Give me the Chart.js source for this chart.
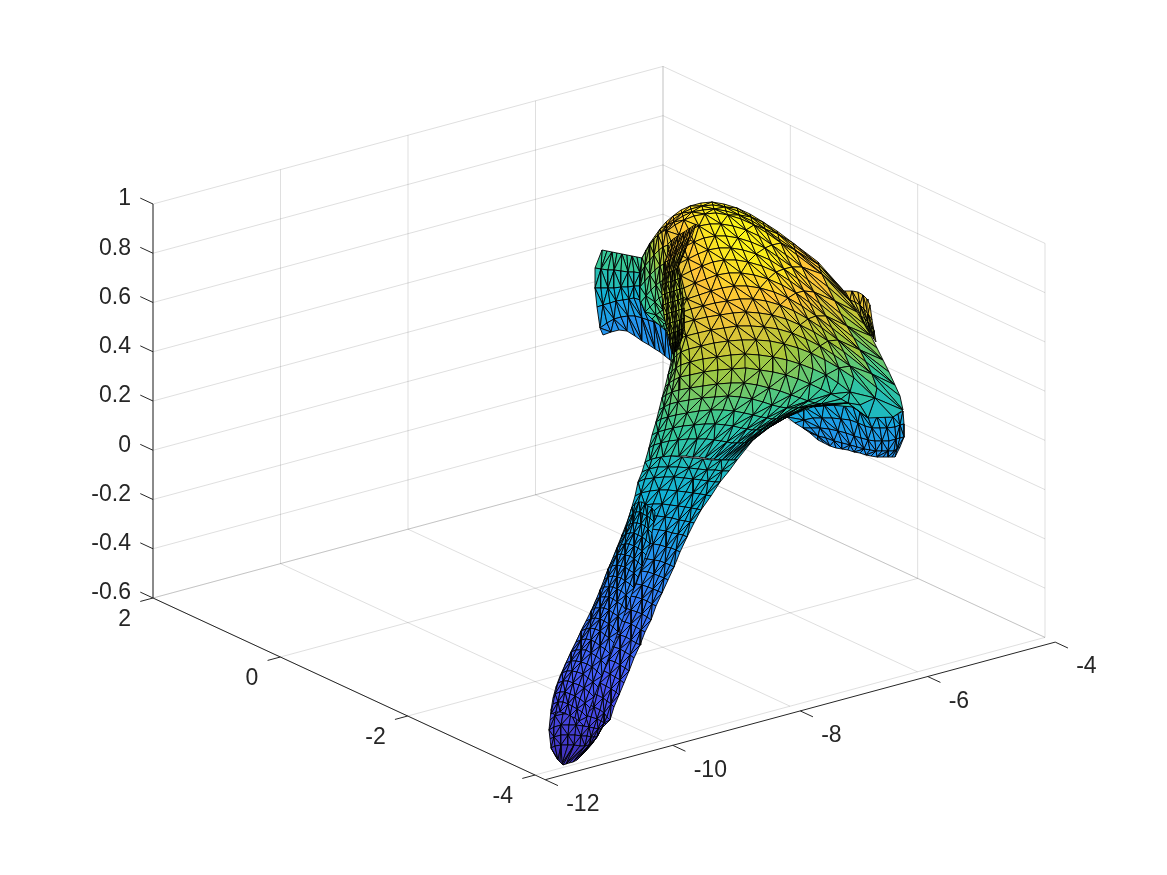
<!DOCTYPE html>
<html>
<head>
<meta charset="utf-8">
<title>surface</title>
<script src="https://cdn.jsdelivr.net/npm/chart.js@4/dist/chart.umd.min.js"></script>
<style>
  html, body { margin: 0; padding: 0; background: #fff; }
  canvas { display: block; }
</style>
</head>
<body>
<canvas id="grafico" width="1167" height="875"></canvas>
<script>
const xTicks = [-12, -10, -8, -6, -4];
const yTicks = [2, 0, -2, -4];
const zTicks = [1, 0.8, 0.6, 0.4, 0.2, 0, -0.2, -0.4, -0.6];
const zLabels = ['1', '0.8', '0.6', '0.4', '0.2', '0', '-0.2', '-0.4', '-0.6'];

const headU = [
  [642,646,650,655,660,666,673,681,690,701,712,724,737,750,763,777,793,818,843],
  [642,646,650,656,661,667,674,682,691,702,713,725,738,751,764,778,794,819,845],
  [642,645,650,655,661,667,674,683,692,703,714,726,739,752,765,779,795,820,847],
  [641,645,650,655,661,667,675,684,694,705,716,728,741,754,767,781,797,822,850],
  [640,645,651,657,664,671,679,689,699,710,721,733,746,759,772,786,802,828,857],
  [640,646,653,660,667,675,684,694,704,715,726,738,751,765,778,792,808,835,864],
  [642,648,656,663,670,678,688,698,708,719,731,743,756,770,784,798,814,841,871],
  [645,651,659,666,672,681,691,702,713,724,736,748,762,776,790,804,820,847,877],
  [651,656,662,668,674,684,695,706,717,729,741,754,768,782,796,810,826,854,883],
  [658,662,667,671,677,687,699,711,722,734,747,760,774,788,802,816,832,860,889],
  [665,668,671,674,680,691,703,715,727,740,753,766,780,794,808,822,838,866,895],
  [670,672,674,677,683,694,707,720,733,746,759,772,786,800,814,828,844,872,900],
  [672,674,676,679,686,698,711,724,737,751,764,778,792,806,820,834,850,877,903],
  [671,674,677,681,689,701,714,728,742,756,770,784,798,811,825,839,854,875,893],
  [668,672,676,681,690,703,717,731,745,759,773,787,800,813,826,838,850,860,868],
  [665,669,674,680,690,704,718,732,746,760,773,786,798,810,821,831,841,848,853],
  [662,666,672,679,690,703,717,731,744,757,769,780,791,800,808,815,821,826,830],
  [659,664,670,678,689,702,715,728,740,752,763,772,780,787,793,798,803,808,812],
  [656,661,668,676,687,699,711,723,734,744,753,761,767,772,776,779,782,785,787],
  [652,658,665,673,683,694,705,715,725,733,741,747,752,756,760,763,766,768,770],
  [649,654,661,669,678,688,697,706,714,721,727,732,737,741,744,747,749,751,753],
  [645,650,656,663,671,679,686,693,699,705,710,714,718,722,725,728,731,734,737]
];
const headV = [
  [258,250,243,236,229,222,216,210,206,203,202,204,208,214,222,231,243,262,290],
  [261,253,246,239,232,225,219,213,209,206,205,207,211,217,225,234,246,265,293],
  [264,256,249,242,235,228,222,216,212,210,209,211,215,221,229,239,250,269,297],
  [268,260,252,245,238,231,225,220,216,214,213,215,219,225,233,243,255,274,301],
  [280,271,262,255,248,241,235,230,226,224,224,226,230,236,245,255,267,287,312],
  [291,282,273,265,258,252,247,242,238,236,236,238,242,248,257,267,280,301,324],
  [302,293,284,276,270,264,259,254,250,248,248,250,254,260,269,279,292,314,336],
  [311,303,295,288,282,276,271,266,262,260,260,262,266,272,281,291,304,326,348],
  [318,312,305,299,293,288,283,279,275,273,273,275,279,285,293,303,316,338,360],
  [324,319,313,308,303,299,295,291,288,286,286,288,292,298,306,316,328,350,372],
  [330,326,321,317,313,309,306,303,301,299,299,301,305,311,319,328,340,362,385],
  [337,333,329,326,323,320,317,315,313,312,313,315,319,325,332,341,352,374,396],
  [350,346,342,339,336,333,330,328,326,326,327,329,333,339,346,355,366,388,410],
  [362,358,355,352,349,346,343,341,340,340,341,344,348,353,360,368,378,398,417],
  [375,371,368,365,362,359,357,355,354,355,357,360,364,369,375,383,392,405,418],
  [387,383,380,377,375,372,370,369,368,370,372,375,379,384,389,394,399,403,407],
  [398,395,392,390,388,386,384,383,383,385,388,391,395,398,401,403,404,405,405],
  [410,407,404,402,400,398,397,396,397,399,402,405,407,408,408,408,408,407,407],
  [422,419,417,415,413,411,410,410,411,413,415,417,418,419,419,419,418,418,417],
  [435,432,430,428,426,425,424,424,425,426,428,429,430,430,430,429,429,428,427],
  [448,445,443,441,440,439,439,439,440,441,442,443,443,443,443,442,441,441,440],
  [462,460,458,457,456,456,456,457,457,458,459,459,460,460,460,460,460,460,460]
];
const headC = [
  [.66,.68,.72,.76,.80,.84,.88,.90,.92,.94,.96,.97,.97,.97,.95,.94,.90,.84,.76],
  [.65,.67,.71,.75,.79,.83,.87,.90,.92,.94,.96,.97,.97,.97,.95,.94,.90,.84,.75],
  [.65,.67,.71,.75,.79,.83,.87,.90,.93,.95,.97,.98,.98,.97,.96,.94,.90,.84,.75],
  [.64,.66,.70,.74,.78,.82,.86,.90,.93,.95,.97,.98,.98,.97,.96,.94,.90,.84,.74],
  [.62,.64,.68,.72,.76,.80,.86,.90,.93,.96,.98,.98,.98,.97,.96,.93,.89,.82,.72],
  [.60,.62,.66,.70,.74,.80,.85,.90,.93,.96,.98,.98,.98,.97,.95,.92,.87,.80,.69],
  [.58,.60,.64,.68,.74,.80,.85,.89,.92,.95,.97,.98,.97,.96,.94,.90,.85,.77,.65],
  [.57,.60,.64,.68,.74,.80,.85,.88,.91,.94,.95,.96,.96,.94,.91,.87,.82,.74,.61],
  [.58,.60,.64,.68,.74,.80,.84,.87,.89,.92,.92,.93,.92,.90,.87,.84,.79,.71,.58],
  [.58,.60,.64,.68,.74,.80,.84,.86,.88,.89,.89,.89,.88,.86,.83,.80,.76,.68,.55],
  [.60,.62,.66,.70,.76,.80,.84,.85,.86,.86,.86,.85,.83,.81,.78,.75,.72,.64,.52],
  [.60,.62,.66,.72,.76,.80,.83,.84,.84,.83,.82,.80,.78,.76,.73,.70,.67,.60,.49],
  [.62,.64,.68,.72,.76,.79,.81,.82,.81,.80,.79,.77,.75,.73,.70,.67,.64,.57,.47],
  [.62,.64,.68,.72,.75,.77,.78,.78,.78,.77,.75,.73,.71,.68,.65,.62,.59,.52,.45],
  [.62,.64,.67,.70,.72,.74,.75,.75,.74,.72,.71,.69,.66,.63,.60,.58,.55,.50,.46],
  [.62,.63,.65,.67,.69,.71,.71,.71,.70,.68,.67,.65,.63,.60,.57,.55,.53,.52,.50],
  [.60,.62,.63,.65,.66,.67,.68,.67,.66,.65,.63,.61,.60,.58,.56,.55,.54,.54,.54],
  [.58,.60,.61,.62,.63,.64,.64,.64,.63,.61,.60,.58,.57,.56,.55,.55,.55,.55,.55],
  [.57,.58,.59,.60,.61,.61,.61,.60,.59,.58,.57,.55,.54,.54,.54,.54,.54,.54,.54],
  [.55,.56,.57,.58,.58,.58,.57,.56,.55,.55,.54,.53,.52,.52,.52,.52,.52,.52,.52],
  [.53,.54,.55,.55,.55,.54,.54,.53,.52,.51,.50,.49,.48,.48,.48,.48,.48,.48,.48],
  [.52,.52,.53,.53,.53,.52,.51,.50,.50,.49,.48,.48,.47,.47,.47,.47,.47,.47,.47]
];

const collarU = [
  [642,646,650,654,658,662,666],
  [641,645,650,654,659,663,668],
  [640,645,650,655,660,664,668],
  [641,646,651,656,660,664,667],
  [645,650,655,659,663,666,668],
  [652,656,660,663,666,668,670],
  [662,664,666,668,670,671,672]
];
const collarV = [
  [258,251,245,239,235,232,230],
  [272,266,260,255,250,247,245],
  [287,281,275,270,266,264,262],
  [302,296,290,285,282,280,278],
  [312,307,302,298,296,294,293],
  [319,315,312,310,308,307,306],
  [327,324,322,320,318,317,316]
];
const collarC = [
  [.64,.68,.72,.76,.80,.84,.86],
  [.60,.63,.66,.70,.74,.78,.80],
  [.56,.59,.62,.65,.68,.72,.74],
  [.55,.57,.60,.62,.65,.68,.70],
  [.55,.57,.59,.61,.63,.66,.68],
  [.56,.58,.60,.62,.64,.66,.68],
  [.58,.60,.62,.64,.66,.68,.70]
];

const foldU = [
  [672,675,678,681,684,687,690,693,696],
  [668,671,674,677,680,683,686,689,692],
  [665,668,670,673,675,678,681,684,686],
  [663,665,667,669,671,673,675,677,678],
  [662,664,666,668,671,673,675,678,680],
  [662,665,667,670,672,674,677,680,682],
  [663,666,668,671,673,675,678,681,683],
  [664,667,669,672,674,676,679,682,684],
  [666,668,670,673,675,677,680,682,684],
  [668,670,672,674,676,678,680,682,684],
  [670,671,673,675,676,678,679,681,682],
  [672,673,674,675,675,676,676,677,678]
];
const foldV = [
  [240,238,236,234,232,230,228,226,224],
  [252,250,248,246,244,242,240,238,236],
  [262,261,260,258,256,254,252,250,248],
  [275,274,273,272,272,271,270,269,268],
  [285,284,283,282,282,281,280,279,278],
  [295,294,293,292,292,291,290,289,288],
  [305,304,303,302,302,301,300,299,298],
  [315,314,313,312,312,311,310,309,308],
  [325,324,323,322,322,321,320,319,318],
  [335,334,333,332,332,331,330,329,328],
  [345,344,343,342,342,341,340,339,338],
  [354,353,353,352,352,351,351,350,350]
];
const foldC = [.88,.86,.82,.74,.72,.72,.72,.72,.72,.72,.70,.68];

const stemU = [
  [645,652,661,671,682,693,703,712,721,729,737],
  [642,649,658,668,678,689,698,707,715,722,729],
  [638,645,654,664,674,684,693,701,708,715,720],
  [635,641,650,659,668,677,686,693,700,706,711],
  [631,637,645,653,662,670,678,685,691,697,701],
  [627,633,640,648,657,665,672,679,685,690,694],
  [622,628,635,643,651,659,666,672,678,683,687],
  [616,622,629,637,645,653,660,666,671,676,680],
  [610,617,624,632,640,647,654,660,665,670,674],
  [605,612,619,626,634,641,648,654,659,664,668],
  [601,607,614,621,629,636,642,648,653,658,662],
  [595,601,608,616,623,630,636,642,647,652,656],
  [590,596,603,611,618,625,631,637,642,647,651],
  [583,590,597,605,612,619,625,631,636,641,645],
  [577,584,592,600,607,614,620,626,631,636,640],
  [571,578,586,594,602,608,614,620,625,630,634],
  [565,573,581,589,597,603,609,615,620,625,629],
  [560,568,576,584,592,598,604,610,615,620,624],
  [556,563,571,579,587,594,600,606,611,616,619],
  [553,560,568,576,584,591,597,603,607,611,614],
  [551,557,565,573,581,588,594,600,604,607,610],
  [550,555,563,571,578,585,591,597,601,604,606],
  [549,554,561,569,576,583,589,594,598,601,602],
  [550,554,561,568,575,581,587,591,594,597,598],
  [551,555,561,568,574,580,585,589,590,592,593],
  [556,558,560,562,563,566,569,573,577,581,586]
];
const stemV = [
  [462,459,457,456,457,458,459,460,460,460,460],
  [472,469,467,467,467,468,469,470,470,471,471],
  [482,479,478,477,477,478,479,480,481,482,482],
  [496,493,491,490,490,491,492,493,494,495,496],
  [510,507,505,504,504,505,506,507,508,509,510],
  [522,519,517,516,516,517,518,520,521,522,523],
  [535,532,530,529,529,530,531,533,534,535,537],
  [550,546,544,543,543,544,545,547,548,550,552],
  [565,561,559,558,558,559,560,561,563,565,567],
  [577,573,571,570,570,571,572,574,576,578,580],
  [590,586,584,583,583,584,585,587,589,591,593],
  [602,598,596,595,595,596,597,599,601,604,606],
  [615,610,608,607,607,608,610,612,614,617,620],
  [627,622,620,619,619,620,622,624,627,630,632],
  [640,635,633,632,632,633,635,637,640,643,645],
  [652,647,645,644,644,645,647,649,652,655,658],
  [665,659,657,656,656,657,660,662,665,668,671],
  [676,670,668,667,667,668,671,674,677,680,683],
  [687,682,680,679,679,680,683,686,689,692,695],
  [698,693,691,691,691,692,695,698,701,704,707],
  [710,705,703,703,703,704,707,710,713,717,720],
  [720,716,714,714,714,715,717,719,721,723,724],
  [730,727,725,725,725,726,727,728,729,729,728],
  [739,737,735,735,735,736,736,737,737,737,735],
  [748,746,745,745,745,746,746,745,745,744,742],
  [757,760,762,764,765,764,763,762,760,756,751]
];
const stemC = [.50,.48,.46,.44,.42,.40,.38,.35,.32,.30,.28,.26,.24,.22,.21,.19,.18,.16,.15,.13,.12,.10,.09,.07,.06,.03];

const lobeU = [
  [632,635,639,642,645,648,652,655],
  [629,633,636,640,643,647,650,654],
  [626,630,633,637,641,645,648,652],
  [622,626,630,634,638,642,646,650],
  [617,621,625,629,634,638,642,646],
  [613,617,621,625,630,634,638,642],
  [608,612,617,621,625,629,634,638],
  [604,608,613,617,621,625,630,634],
  [600,604,609,613,617,621,626,630],
  [596,600,605,609,613,617,622,626],
  [591,595,600,604,609,613,618,622],
  [586,591,595,600,604,609,613,618],
  [581,586,590,595,600,605,609,614],
  [576,581,586,591,595,600,605,610],
  [571,576,581,586,591,596,601,606],
  [566,571,576,581,587,592,597,602],
  [562,567,572,577,583,588,593,598],
  [558,563,568,573,579,584,589,594],
  [555,560,565,570,575,580,585,590],
  [553,558,563,568,572,577,582,587],
  [551,556,560,565,570,575,579,584]
];
const lobeV = [
  [507,504,502,502,504,506,508,512],
  [517,514,512,512,514,516,518,522],
  [527,524,523,523,524,526,529,533],
  [537,534,533,533,535,537,540,544],
  [548,545,544,544,546,548,551,555],
  [558,555,554,555,556,559,562,566],
  [569,566,565,566,567,570,573,577],
  [580,577,576,577,578,581,584,588],
  [590,587,587,587,589,591,595,599],
  [600,597,597,597,599,602,605,610],
  [611,608,608,608,610,613,616,621],
  [621,619,618,619,621,624,627,632],
  [631,629,628,629,631,635,638,643],
  [642,640,639,640,642,646,649,654],
  [652,650,650,650,653,656,660,665],
  [663,661,661,662,664,667,671,676],
  [673,671,671,672,674,678,682,687],
  [683,681,681,683,685,688,692,697],
  [694,692,692,694,696,699,703,708],
  [704,702,702,704,706,709,712,717],
  [714,712,712,713,716,718,721,726]
];
const lobeC = [.42,.41,.39,.37,.35,.33,.31,.29,.28,.26,.25,.23,.22,.20,.19,.18,.16,.15,.14,.12,.11];

const flapLeftU = [
  [602,607,612,617,622,627,632,637,642,650,660,670,680,690],
  [595,601,608,614,621,628,634,640,646,654,662,670,680,690],
  [595,601,608,614,621,628,634,640,646,654,662,670,680,690],
  [597,603,610,616,623,629,634,640,646,654,662,670,680,690],
  [600,607,614,621,628,635,642,648,654,660,666,672,680,690],
  [603,611,619,627,635,642,649,655,660,665,670,675,682,690]
];
const flapLeftV = [
  [250,251,252,253,254,255,256,257,258,258,258,258,258,258],
  [268,269,270,270,271,272,272,273,274,276,278,280,282,284],
  [288,288,288,288,287,287,286,286,288,292,296,300,302,304],
  [307,305,303,301,300,299,298,300,305,312,316,320,322,324],
  [328,323,319,317,316,316,318,320,322,325,328,331,335,340],
  [335,332,330,331,336,341,345,349,352,356,360,362,360,360]
];
const flapLeftC = [.60,.54,.47,.40,.34,.32];

const flapRightU = [
  [838,845,852,858,863,867,870],
  [845,850,855,860,864,868,872],
  [853,857,861,865,868,871,874],
  [862,865,868,870,872,874,876]
];
const flapRightV = [
  [290,291,291,292,295,299,305],
  [300,300,302,305,309,314,320],
  [313,314,316,319,322,326,331],
  [330,330,332,334,336,339,342]
];
const flapRightC = [.84,.80,.76,.70];

const underU = [
  [787,795,804,814,824,834,844,853,860,868,877,885,893,898,903],
  [795,804,813,822,832,841,850,858,865,872,880,887,895,900,904],
  [803,811,820,829,838,846,854,861,868,875,882,889,896,900,904],
  [810,818,826,834,842,850,857,864,870,876,882,888,894,897,900],
  [818,824,830,836,842,848,854,860,866,871,877,883,888,892,895]
];
const underV = [
  [417,410,407,406,405,405,405,407,412,417,417,417,417,414,411],
  [423,420,418,418,418,419,420,423,426,428,428,428,427,425,424],
  [428,428,428,429,431,433,436,438,440,441,441,441,439,438,437],
  [433,436,438,441,443,445,447,449,450,451,451,451,451,449,447],
  [440,443,446,448,449,450,452,453,455,456,457,457,457,457,457]
];
const underC = [.42,.37,.35,.33,.33];

const parula = [
  [62,38,168],[72,82,244],[46,135,247],[18,177,214],
  [55,200,151],[171,199,57],[254,195,56],[249,251,21]
];

function corCmap(t) {
  const p = Math.max(0, Math.min(0.9999, t)) * (parula.length - 1);
  const i = Math.floor(p), f = p - i;
  const a = parula[i], b = parula[i + 1];
  return `rgb(${a[0] + (b[0] - a[0]) * f},${a[1] + (b[1] - a[1]) * f},${a[2] + (b[2] - a[2]) * f})`;
}

// projecao ortografica dos eixos 3D para o plano da vista
function proj(x, y, z) {
  return {
    x: 153 + 63.75 * (x + 12) + 63.67 * (2 - y),
    y: 598 - 17.2 * (x + 12) + 29.5 * (2 - y) - 246.25 * (z + 0.6)
  };
}

const datasets = [];

function linha(p, q, cor, larg) {
  datasets.push({
    data: [p, q], showLine: true, fill: false, pointRadius: 0,
    borderColor: cor, borderWidth: larg, parsing: false
  });
}

function tri(a, b, c, valor) {
  datasets.push({
    data: [a, b, c, a], showLine: true, fill: 'shape', pointRadius: 0, tension: 0,
    backgroundColor: corCmap(valor), borderColor: '#000', borderWidth: 0.9, parsing: false
  });
}

function malha(us, vs, cs) {
  const cor = (i, j) => Array.isArray(cs[i]) ? cs[i][j] : cs[i];
  for (let i = 0; i < us.length - 1; i++) {
    for (let j = 0; j < us[i].length - 1; j++) {
      const a = { x: us[i][j], y: vs[i][j] };
      const b = { x: us[i][j + 1], y: vs[i][j + 1] };
      const c = { x: us[i + 1][j], y: vs[i + 1][j] };
      const d = { x: us[i + 1][j + 1], y: vs[i + 1][j + 1] };
      const m = (cor(i, j) + cor(i, j + 1) + cor(i + 1, j) + cor(i + 1, j + 1)) / 4;
      if ((i + j) % 2 == 0) {
        tri(a, b, d, m);
        tri(a, d, c, m);
      } else {
        tri(a, b, c, m);
        tri(b, d, c, m);
      }
    }
  }
}

const grade = 'rgba(38,38,38,0.15)';
zTicks.forEach(z => {
  linha(proj(-12, 2, z), proj(-4, 2, z), grade, 1);
  linha(proj(-4, 2, z), proj(-4, -4, z), grade, 1);
});
xTicks.forEach(x => {
  linha(proj(x, 2, -0.6), proj(x, 2, 1), grade, 1);
  linha(proj(x, 2, -0.6), proj(x, -4, -0.6), grade, 1);
});
yTicks.forEach(y => {
  linha(proj(-4, y, -0.6), proj(-4, y, 1), grade, 1);
  linha(proj(-12, y, -0.6), proj(-4, y, -0.6), grade, 1);
});

const eixo = '#262626';
const yFrente = -4.16;
linha(proj(-12, 2, -0.6), proj(-12, 2, 1), eixo, 1);
linha(proj(-12, 2, -0.6), proj(-12, yFrente, -0.6), eixo, 1);
linha(proj(-12, yFrente, -0.6), proj(-4, yFrente, -0.6), eixo, 1);
zTicks.forEach(z => linha(proj(-12, 2, z), proj(-12, 2.2, z), eixo, 1));
yTicks.forEach(y => linha(proj(-12, y, -0.6), proj(-12.2, y, -0.6), eixo, 1));
xTicks.forEach(x => linha(proj(x, yFrente, -0.6), proj(x, yFrente - 0.2, -0.6), eixo, 1));

malha(flapLeftU, flapLeftV, flapLeftC);
malha(flapRightU, flapRightV, flapRightC);
malha(underU, underV, underC);
malha(headU, headV, headC);
malha(collarU, collarV, collarC);
malha(foldU, foldV, foldC);
malha(stemU, stemV, stemC);
malha(lobeU, lobeV, lobeC);

datasets.forEach((d, i) => { d.order = datasets.length - i; });

const rotulos = {
  id: 'rotulos',
  afterDraw(chart) {
    const ctx = chart.ctx;
    const sx = chart.scales.x, sy = chart.scales.y;
    const texto = (s, p, dx, dy, al) => {
      ctx.textAlign = al;
      ctx.fillText(s, sx.getPixelForValue(p.x) + dx, sy.getPixelForValue(p.y) + dy);
    };
    ctx.save();
    ctx.font = '23px "Liberation Sans"';
    ctx.fillStyle = eixo;
    ctx.textBaseline = 'middle';
    zTicks.forEach((z, i) => texto(zLabels[i], proj(-12, 2, z), -22, -5, 'right'));
    yTicks.forEach(y => texto(String(y), proj(-12, y, -0.6), -22, 22, 'right'));
    xTicks.forEach(x => texto(String(x), proj(x, yFrente, -0.6), 21, 25, 'left'));
    ctx.restore();
  }
};

new Chart(document.getElementById('grafico').getContext('2d'), {
  type: 'scatter',
  data: { datasets: datasets },
  options: {
    responsive: false,
    animation: false,
    events: [],
    layout: { padding: 0 },
    plugins: { legend: { display: false }, tooltip: { enabled: false } },
    scales: {
      x: { type: 'linear', display: false, min: 0, max: 1167 },
      y: { type: 'linear', display: false, min: 0, max: 875, reverse: true }
    }
  },
  plugins: [rotulos]
});
</script>
</body>
</html>
